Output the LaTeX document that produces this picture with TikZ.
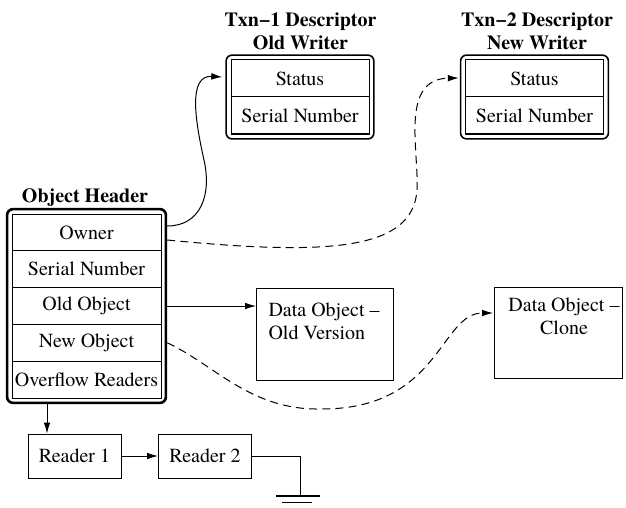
\documentclass[tikz,border=0pt]{standalone}
\usepackage{fontspec}
\setmainfont{TeX Gyre Termes}
\usetikzlibrary{arrows.meta,fit,calc}
\begin{document}
\begin{tikzpicture}[x=0.5pt,y=-0.5pt,
  font=\fontsize{10}{11.5}\selectfont,
  every path/.style={line width=0.5pt},
  hrow/.style={draw, line width=0.5pt, minimum width=74.5pt, minimum height=18.4pt, inner sep=0pt},
  trow/.style={draw, line width=0.5pt, minimum width=69pt, minimum height=18.5pt, inner sep=0pt},
  outerbox/.style={draw, rounded corners=3pt, inner sep=2.2pt},
  plainbox/.style={draw, line width=0.5pt, inner sep=0pt},
  ttl/.style={font=\fontsize{10}{11.5}\selectfont\bfseries, align=center, inner sep=0pt},
  arr/.style={-{Latex[length=5.5pt,width=3.4pt]}},
  dsh/.style={dash pattern=on 4pt off 2.6pt}]
\useasboundingbox (0,0) rectangle (626,508);

% Object header
\node[hrow] (h1) at (86.5,232.4) {Owner};
\node[hrow] (h2) at (86.5,269.2) {Serial Number};
\node[hrow] (h3) at (86.5,306.0) {Old Object};
\node[hrow] (h4) at (86.5,342.8) {New Object};
\node[hrow] (h5) at (86.5,379.6) {Overflow Readers};
\node[outerbox, line width=1.3pt, fit=(h1)(h5)] (hdr) {};
\node[ttl, anchor=base] (hdrttl) at (85,202) {Object Header};

% Txn-1 descriptor
\node[trow] (t1a) at (300,78.5) {Status};
\node[trow] (t1b) at (300,115.5) {Serial Number};
\node[outerbox, line width=0.8pt, fit=(t1a)(t1b)] (t1box) {};
\node[ttl, anchor=base] (t1ttl) at (300.5,50) {Txn−1 Descriptor\\Old Writer};

% Txn-2 descriptor
\node[trow] (t2a) at (534.5,78.5) {Status};
\node[trow] (t2b) at (534.5,115.5) {Serial Number};
\node[outerbox, line width=0.8pt, fit=(t2a)(t2b)] (t2box) {};
\node[ttl, anchor=base] (t2ttl) at (537,50) {Txn−2 Descriptor\\New Writer};

% Data objects
\node[plainbox, minimum width=68.5pt, minimum height=46pt, anchor=north west] (dold) at (256,288) {};
\node[anchor=base west, align=left, inner sep=0pt] (doldtxt) at (268,339) {Data Object –\\Old Version};
\node[plainbox, minimum width=64pt, minimum height=45.5pt, anchor=north west] (dnew) at (494,287) {};
\node[anchor=base, align=center, inner sep=0pt] (dnewtxt) at (564,334) {Data Object –\\Clone};

% Readers
\node[plainbox, minimum width=46.5pt, minimum height=22pt] (r1) at (74.5,456) {Reader 1};
\node[plainbox, minimum width=46.5pt, minimum height=22pt] (r2) at (205,456) {Reader 2};

% connectors
\coordinate (o1) at ($(h1.east -| hdr.east)+(0,-6.4)$);
\coordinate (o2) at ($(h1.east -| hdr.east)+(0,7.6)$);
\coordinate (t1in) at ($(t1a.west -| t1box.west)+(-3,-1.5)$);
\coordinate (t2in) at ($(t2a.west -| t2box.west)+(-1,-0.5)$);
\coordinate (nin) at ($(dnew.north west)+(-1,26)$);

\draw[arr] (o1) .. controls (200,226) and (212,196) .. (204,160)
               .. controls (195,120) and (188,75) .. (t1in);
\draw[arr,dsh] (o2) .. controls (330,256) and (413,250) .. (417,190)
               .. controls (419,150) and (400,79) .. (t2in);
\draw[arr] (h3.east -| hdr.east) -- (h3.east -| dold.west);
\draw[arr,dsh] (h4.east -| hdr.east) .. controls (215,365) and (250,410) .. (320,409)
               .. controls (440,410) and (440,313) .. (nin);

\coordinate (rd) at (47,402);
\draw[arr] (rd) -- (rd |- r1.north);
\draw[arr] (r1) -- (r2);

% ground
\coordinate (gnd) at (300,496);
\draw (r2.east) -- (gnd |- r2.east) -- (gnd);
\draw[line width=0.9pt] ($(gnd)+(-24,0)$) -- ($(gnd)+(20,0)$);
\draw ($(gnd)+(-18,6)$) -- ($(gnd)+(12,6)$);
\end{tikzpicture}
\end{document}
